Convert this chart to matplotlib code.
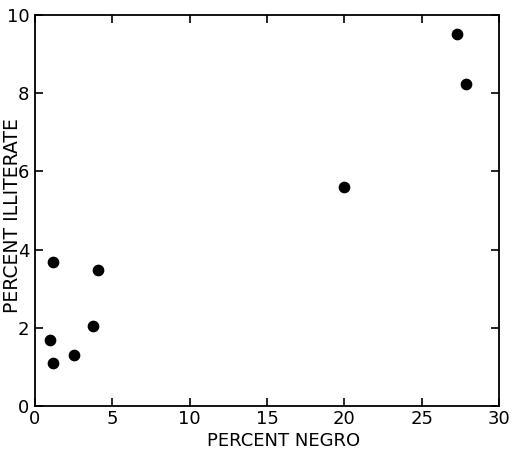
import matplotlib.pyplot as plt

# Data
pct_negro = [0.97, 1.18, 2.54, 3.77, 1.14, 4.05, 19.97, 27.3, 27.86]
pct_illiterate = [1.69, 1.09, 1.29, 2.03, 3.67, 3.48, 5.6, 9.51, 8.23]

x_ticks = [0, 5, 10, 15, 20, 25, 30]
y_ticks = [0, 2, 4, 6, 8, 10]

fig = plt.figure(figsize=(5.14, 4.57), dpi=100)
ax = fig.add_axes([0.068, 0.112, 0.903, 0.855])

ax.scatter(pct_negro, pct_illiterate, s=55, color='black', zorder=3)

ax.set_xlim(0, 30)
ax.set_ylim(0, 10)
ax.set_xticks(x_ticks)
ax.set_yticks(y_ticks)
ax.tick_params(direction='in', length=6, width=1.2, top=True, right=True,
               labelsize=13, pad=3)
ax.tick_params(axis='y', pad=4)
for s in ax.spines.values():
    s.set_linewidth(1.3)

ax.set_xlabel('PERCENT NEGRO', fontsize=13)
ax.xaxis.set_label_coords(0.535, -0.066)
ax.set_ylabel('PERCENT ILLITERATE', fontsize=13.5)
ax.yaxis.set_label_coords(-0.027, 0.487)

fig.savefig('out.png', dpi=100)
